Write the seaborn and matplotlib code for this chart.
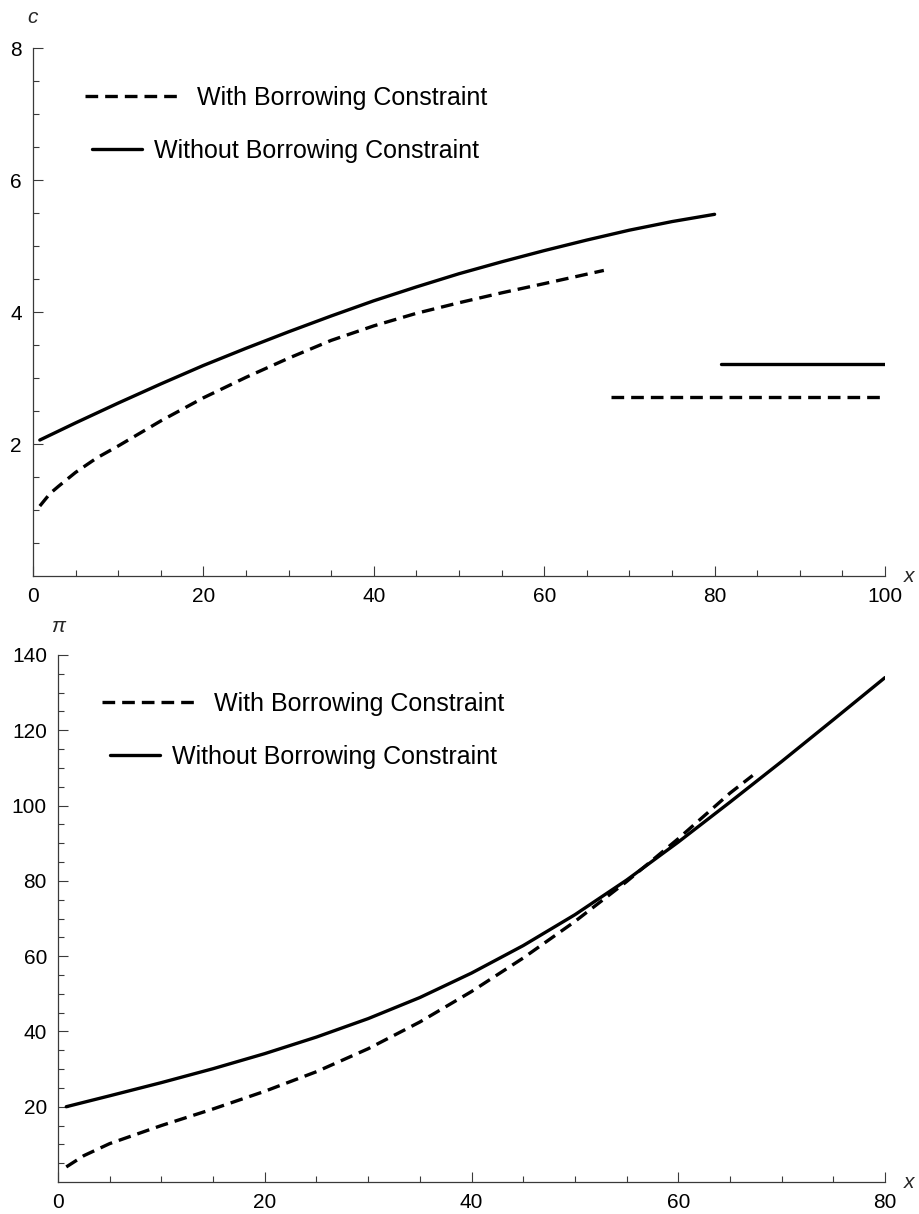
import matplotlib
matplotlib.use('Agg')
import matplotlib.pyplot as plt
from matplotlib.lines import Line2D
from matplotlib.ticker import MultipleLocator, FixedLocator
import seaborn as sns

# consumption c(x), top panel
c_free_x = [0.8, 5, 10, 15, 20, 25, 30, 35, 40, 45, 50, 55, 60, 65, 70, 75, 80]
c_free_y = [2.06, 2.32, 2.62, 2.91, 3.19, 3.45, 3.70, 3.94, 4.17, 4.38, 4.58, 4.76, 4.93, 5.09, 5.24, 5.37, 5.48]
c_bc_x = [0.8, 2, 3, 5, 7.5, 10, 15, 20, 25, 30, 35, 40, 45, 50, 55, 60, 67]
c_bc_y = [1.06, 1.25, 1.36, 1.57, 1.79, 1.97, 2.35, 2.70, 3.01, 3.30, 3.57, 3.79, 3.98, 4.14, 4.29, 4.43, 4.63]
c_free_flat_x = [80.8, 100]
c_free_flat_y = [3.21, 3.21]
c_bc_flat_x = [67.8, 100]
c_bc_flat_y = [2.71, 2.71]

# value pi(x), bottom panel
p_free_x = [0.8, 5, 10, 15, 20, 25, 30, 35, 40, 45, 50, 55, 60, 65, 70, 75, 80]
p_free_y = [20.0, 22.9, 26.4, 30.1, 34.1, 38.5, 43.4, 49.0, 55.5, 62.8, 71.0, 80.2, 90.3, 100.9, 111.7, 122.8, 134.0]
p_bc_x = [0.8, 2.5, 5, 10, 15, 20, 25, 30, 35, 40, 45, 50, 55, 60, 65, 67.2]
p_bc_y = [4.0, 7.0, 10.2, 15.0, 19.4, 24.1, 29.3, 35.4, 42.5, 50.6, 59.5, 69.2, 79.8, 91.2, 103.3, 108.0]

labels = ['With Borrowing Constraint', 'Without Borrowing Constraint']

sns.set_theme(style='white')
plt.rcParams['font.family'] = ['Liberation Sans', 'DejaVu Sans']

W, H = 919, 1214
fig = plt.figure(figsize=(W / 100, H / 100), dpi=100)

LW = 2.4
DASH = (0, (3.8, 2.1))
axis_col = '#3a3a3a'


def px(x0, y0):
    return x0 / W, 1 - y0 / H


def style_axes(ax):
    for s in ['top', 'right']:
        ax.spines[s].set_visible(False)
    for s in ['left', 'bottom']:
        ax.spines[s].set_color(axis_col)
        ax.spines[s].set_linewidth(0.9)
    ax.tick_params(which='both', direction='in', color=axis_col, width=0.8,
                   labelsize=15, labelcolor='black', pad=8,
                   left=True, bottom=True)
    ax.tick_params(which='major', length=7)
    ax.tick_params(which='minor', length=4.3)
    ax.set_xlabel('')
    ax.set_ylabel('')


def add_legend(ax, spots):
    h_dash = Line2D([], [], color='black', lw=LW, linestyle=DASH)
    h_solid = Line2D([], [], color='black', lw=LW)
    opts = [(h_dash, labels[0], 3.76, 0.72), (h_solid, labels[1], 2.0, 0.48)]
    legs = []
    for (h, lab, hl, tp), (lx, ly) in zip(opts, spots):
        leg = ax.legend([h], [lab], loc='center left', bbox_to_anchor=px(lx, ly),
                        bbox_transform=fig.transFigure, frameon=False, fontsize=18,
                        labelcolor='black',
                        handlelength=hl, handletextpad=tp, borderpad=0, borderaxespad=0)
        legs.append(leg)
    ax.add_artist(legs[0])


# top panel
ax1 = fig.add_axes([33 / W, 1 - 576 / H, (885 - 33) / W, (576 - 48) / H])
sns.lineplot(x=c_free_x, y=c_free_y, ax=ax1, color='black', lw=LW)
sns.lineplot(x=c_free_flat_x, y=c_free_flat_y, ax=ax1, color='black', lw=LW)
sns.lineplot(x=c_bc_x, y=c_bc_y, ax=ax1, color='black', lw=LW, linestyle=DASH)
sns.lineplot(x=c_bc_flat_x, y=c_bc_flat_y, ax=ax1, color='black', lw=LW, linestyle=DASH)
ax1.set_xlim(0, 100)
ax1.set_ylim(0, 8)
ax1.xaxis.set_major_locator(FixedLocator([0, 20, 40, 60, 80, 100]))
ax1.xaxis.set_minor_locator(MultipleLocator(5))
ax1.yaxis.set_major_locator(FixedLocator([2, 4, 6, 8]))
ax1.yaxis.set_minor_locator(FixedLocator([v * 0.5 for v in range(1, 16)]))
style_axes(ax1)
ax1.text(0.0, 1.057, 'c', transform=ax1.transAxes, fontsize=15, style='italic',
         ha='center', va='center')
ax1.text(1.028, 0.0, 'x', transform=ax1.transAxes, fontsize=15, style='italic',
         ha='center', va='center')
add_legend(ax1, [(85, 98), (92, 151)])

# bottom panel
ax2 = fig.add_axes([58 / W, 1 - 1182 / H, (885 - 58) / W, (1182 - 655) / H])
sns.lineplot(x=p_free_x, y=p_free_y, ax=ax2, color='black', lw=LW)
sns.lineplot(x=p_bc_x, y=p_bc_y, ax=ax2, color='black', lw=LW, linestyle=DASH)
ax2.set_xlim(0, 80)
ax2.set_ylim(0, 140)
ax2.xaxis.set_major_locator(FixedLocator([0, 20, 40, 60, 80]))
ax2.xaxis.set_minor_locator(MultipleLocator(5))
ax2.yaxis.set_major_locator(FixedLocator([20, 40, 60, 80, 100, 120, 140]))
ax2.yaxis.set_minor_locator(FixedLocator(list(range(5, 140, 5))))
style_axes(ax2)
ax2.text(0.0, 1.055, 'π', transform=ax2.transAxes, fontsize=15, style='italic',
         ha='center', va='center')
ax2.text(1.029, 0.0, 'x', transform=ax2.transAxes, fontsize=15, style='italic',
         ha='center', va='center')
add_legend(ax2, [(101.7, 704), (110, 757)])

fig.savefig('out.png', dpi=100)
